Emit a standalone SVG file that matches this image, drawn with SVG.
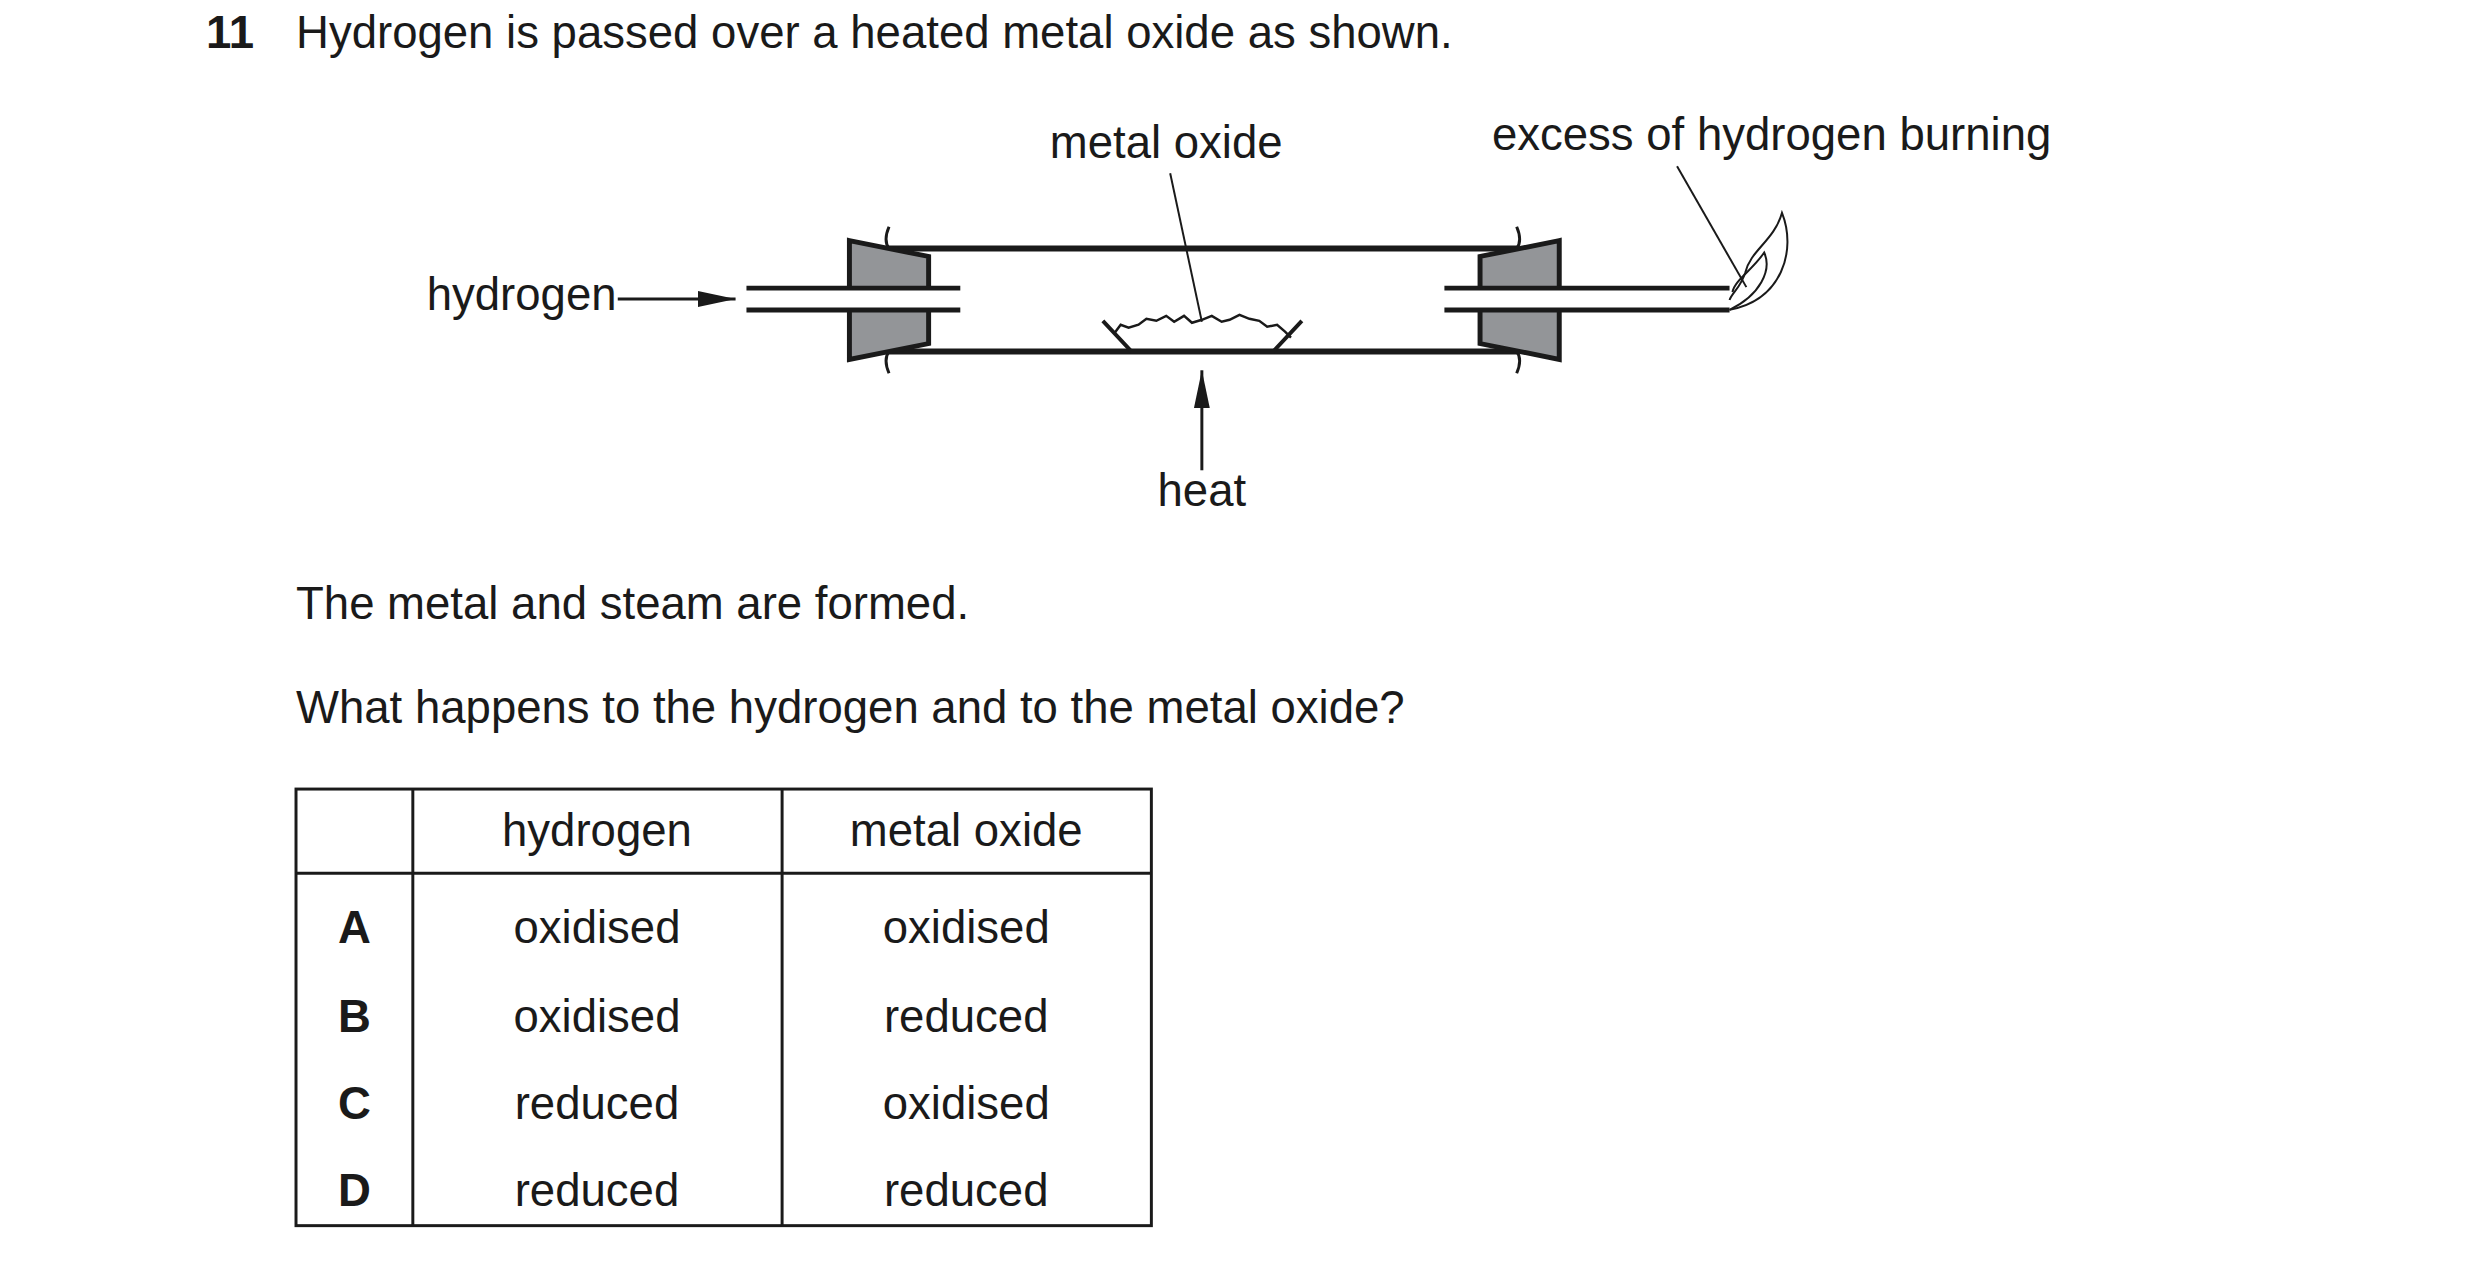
<svg xmlns="http://www.w3.org/2000/svg" width="2480" height="1264" viewBox="0 0 2480 1264">
<style>
text{font-family:"Liberation Sans",Arial,sans-serif;font-size:46px;fill:#1a1a1a}
.c{text-anchor:middle}
.b{font-weight:bold}
.ln{stroke:#1a1a1a;fill:none}
</style>
<defs>
<marker id="ah2" viewBox="0 0 10 10" refX="10" refY="5" markerWidth="38" markerHeight="16" markerUnits="userSpaceOnUse" orient="auto" preserveAspectRatio="none"><path d="M0,0 L10,5 L0,10Z" fill="#1a1a1a"/></marker>
</defs>
<rect width="2480" height="1264" fill="#fff"/>
<g transform="translate(0,3) scale(0.99)">
<text x="208" y="45" class="b">11</text>
<text x="299" y="45">Hydrogen is passed over a heated metal oxide as shown.</text>
<g id="tube">
<line class="ln" x1="895" y1="248" x2="1534" y2="248" stroke-width="6"/>
<line class="ln" x1="895" y1="352" x2="1534" y2="352" stroke-width="6"/>
<path class="ln" stroke-width="3" d="M898,226 q-6,14 0,22 M898,374 q-6,-14 0,-22 M1532,226 q6,14 0,22 M1532,374 q6,-14 0,-22"/>
</g>
<g id="stoppers">
<path d="M858,240 L938,256 L938,344 L858,360Z" fill="#939598" stroke="#1a1a1a" stroke-width="5"/>
<path d="M1575,240 L1495,256 L1495,344 L1575,360Z" fill="#939598" stroke="#1a1a1a" stroke-width="5"/>
</g>
<g id="pipes">
<rect x="754" y="288" width="216" height="22" fill="#fff"/>
<line class="ln" x1="754" y1="288" x2="970" y2="288" stroke-width="5"/>
<line class="ln" x1="754" y1="310" x2="970" y2="310" stroke-width="5"/>
<rect x="1459" y="288" width="288" height="22" fill="#fff"/>
<line class="ln" x1="1459" y1="288" x2="1747" y2="288" stroke-width="5"/>
<line class="ln" x1="1459" y1="310" x2="1747" y2="310" stroke-width="5"/>
</g>
<g id="boat">
<path class="ln" stroke-width="4" d="M1114,321 L1143,352 L1286,352 L1315,321"/>
<path class="ln" stroke-width="2.5" d="M1126,333 l6,-8 l8,3 l10,-3 l8,-6 l10,2 l10,-5 l8,6 l10,-6 l8,7 l10,-3 l10,-4 l10,6 l8,-2 l10,-5 l10,4 l10,2 l8,6 l10,-2 l8,7 l6,6"/>
</g>
<g id="flame">
<path class="ln" stroke-width="2" d="M1747,310 C1800,300 1815,250 1800,212 C1792,240 1768,250 1763,272 C1758,288 1750,292 1747,300"/>
<path class="ln" stroke-width="2" d="M1747,310 C1778,295 1790,270 1782,252 C1770,270 1752,280 1750,292"/>
</g>
<g id="labels">
<text x="431" y="310">hydrogen</text>
<text x="1178" y="157" class="c">metal oxide</text>
<text x="1214" y="508" class="c">heat</text>
<text x="1507" y="149">excess of hydrogen burning</text>
</g>
<g id="connectors">
<line class="ln" stroke-width="3" x1="624" y1="299" x2="743" y2="299" marker-end="url(#ah2)"/>
<line class="ln" stroke-width="3" x1="1214" y1="472" x2="1214" y2="371" marker-end="url(#ah2)"/>
<line class="ln" stroke-width="2" x1="1182" y1="172" x2="1214" y2="322"/>
<line class="ln" stroke-width="2" x1="1694" y1="165" x2="1764" y2="287"/>
</g>
<text x="299" y="622">The metal and steam are formed.</text>
<text x="299" y="727">What happens to the hydrogen and to the metal oxide?</text>
<g id="table">
<rect x="299" y="794" width="864" height="441" fill="none" stroke="#1a1a1a" stroke-width="3"/>
<line class="ln" stroke-width="3" x1="299" y1="879" x2="1163" y2="879"/>
<line class="ln" stroke-width="3" x1="417" y1="794" x2="417" y2="1235"/>
<line class="ln" stroke-width="3" x1="790" y1="794" x2="790" y2="1235"/>
<text x="603" y="852" class="c">hydrogen</text>
<text x="976" y="852" class="c">metal oxide</text>
<text x="358" y="950" class="c b">A</text><text x="603" y="950" class="c">oxidised</text><text x="976" y="950" class="c">oxidised</text>
<text x="358" y="1039" class="c b">B</text><text x="603" y="1039" class="c">oxidised</text><text x="976" y="1039" class="c">reduced</text>
<text x="358" y="1127" class="c b">C</text><text x="603" y="1127" class="c">reduced</text><text x="976" y="1127" class="c">oxidised</text>
<text x="358" y="1215" class="c b">D</text><text x="603" y="1215" class="c">reduced</text><text x="976" y="1215" class="c">reduced</text>
</g>
</g>
</svg>
